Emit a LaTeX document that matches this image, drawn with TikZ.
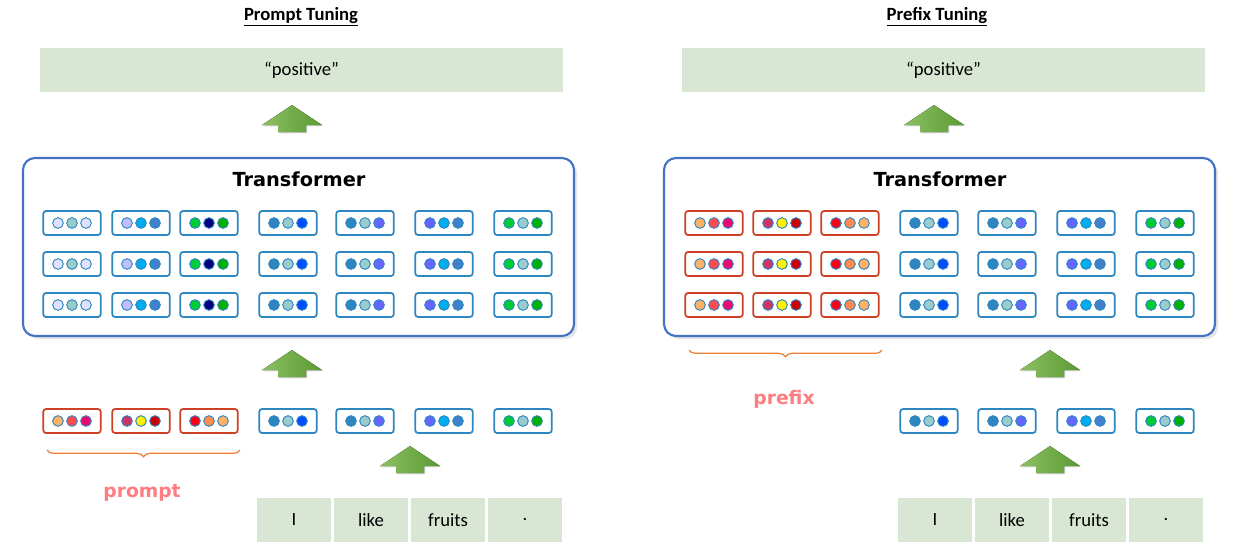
\documentclass[tikz,border=0pt]{standalone}
\usepackage{fontspec}
\setmainfont{Carlito}
\newfontfamily\boldsans{DejaVu Sans}
\usetikzlibrary{positioning,shadows,decorations.pathreplacing}

\definecolor{inbox}{HTML}{D9E6D3}
\definecolor{tfblue}{HTML}{4472C4}
\definecolor{tokblue}{HTML}{2E86C1}
\definecolor{tokred}{HTML}{CC4125}
\definecolor{bracecol}{HTML}{ED7D31}
\definecolor{labpink}{HTML}{FF7C80}
\definecolor{arrowlt}{HTML}{8CC063}
\definecolor{arrowdk}{HTML}{5A9A32}

\tikzset{
  inputbox/.style={fill=inbox, minimum height=33pt, inner sep=0pt, font=\fontsize{14}{16}\selectfont},
  tokbox/.style={draw=#1, line width=1.3pt, rounded corners=2pt, fill=white, minimum width=43pt, minimum height=18pt, inner sep=0pt},
  dot/.style={circle, draw=tokblue, line width=0.7pt, minimum size=8pt, inner sep=0pt},
  bigarrow/.style={left color=arrowlt, right color=arrowdk, draw=none, drop shadow={opacity=0.25,shadow xshift=1pt,shadow yshift=-1pt}},
  titletext/.style={font=\bfseries\fontsize{14}{16}\selectfont},
}

% token with three dots: name, x, y, border, colours
\newcommand{\tok}[7]{%
  \node[tokbox=#4] (#1) at (#2,#3) {};
  \node[dot, fill=#5] (#1-a) at (#2-14,#3) {};
  \node[dot, fill=#6] (#1-b) at (#2,#3) {};
  \node[dot, fill=#7] (#1-c) at (#2+14,#3) {};
}
% up arrow: name, x, top y
\newcommand{\uparr}[3]{%
  \fill[bigarrow] (#2,#3) -- (#2+30,#3+20) -- (#2+14,#3+20) -- (#2+14,#3+27) -- (#2-14,#3+27) -- (#2-14,#3+20) -- (#2-30,#3+20) -- cycle;
  \coordinate (#1) at (#2,#3);
}

\begin{document}
\begin{tikzpicture}[x=0.75pt,y=-0.75pt]
  \useasboundingbox (0,0) rectangle (1235,551);

  % titles
  \node[titletext] (title-l) at (301,17) {\underline{Prompt Tuning}};
  \node[titletext] (title-r) at (937,17) {\underline{Prefix Tuning}};

  % outputs
  \node[inputbox, minimum width=392pt] (out-l) at (301.5,70) {“positive”};
  \node[inputbox, minimum width=392pt] (out-r) at (943.5,70) {“positive”};
  \uparr{arr-l1}{292}{105}
  \uparr{arr-r1}{934}{105}

  % transformers
  \draw[tfblue, line width=1.6pt, rounded corners=9pt, fill=white, drop shadow={opacity=0.2}] (23,158) rectangle (574,336);
  \draw[tfblue, line width=1.6pt, rounded corners=9pt, fill=white, drop shadow={opacity=0.2}] (664,158) rectangle (1215,336);
  \node[font=\boldsans\bfseries\fontsize{14.5}{16}\selectfont] (tf-l) at (299,179) {Transformer};
  \node[font=\boldsans\bfseries\fontsize{14.5}{16}\selectfont] (tf-r) at (940,179) {Transformer};

  % left transformer tokens
  \foreach \y [count=\r] in {223,264,305} {
    \tok{l\r1}{72}{\y}{tokblue}{blue!12}{teal!40}{blue!12}
    \tok{l\r2}{141}{\y}{tokblue}{blue!25}{cyan}{cyan!50!blue!80}
    \tok{l\r3}{209}{\y}{tokblue}{green!60!teal}{blue!50!black}{green!70!black}
    \tok{l\r4}{288}{\y}{tokblue}{tokblue}{teal!40}{blue!70!cyan}
    \tok{l\r5}{365}{\y}{tokblue}{tokblue}{teal!40}{blue!60}
    \tok{l\r6}{444}{\y}{tokblue}{blue!60}{cyan}{cyan!50!blue!80}
    \tok{l\r7}{523}{\y}{tokblue}{green!60!teal}{teal!40}{green!70!black}
  }
  % right transformer tokens
  \foreach \y [count=\r] in {223,264,305} {
    \tok{r\r1}{714}{\y}{tokred}{orange!60}{red!70}{magenta!70!red}
    \tok{r\r2}{782}{\y}{tokred}{purple!80}{yellow}{red!80!black}
    \tok{r\r3}{850}{\y}{tokred}{red!90!magenta}{orange!70!red!70}{orange!60}
    \tok{r\r4}{929}{\y}{tokblue}{tokblue}{teal!40}{blue!70!cyan}
    \tok{r\r5}{1007}{\y}{tokblue}{tokblue}{teal!40}{blue!60}
    \tok{r\r6}{1086}{\y}{tokblue}{blue!60}{cyan}{cyan!50!blue!80}
    \tok{r\r7}{1165}{\y}{tokblue}{green!60!teal}{teal!40}{green!70!black}
  }
  \uparr{arr-l2}{292}{350}
  \uparr{arr-r2}{1050}{350}

  % left embeddings
  \tok{pa}{72}{421}{tokred}{orange!60}{red!70}{magenta!70!red}
  \tok{pb}{141}{421}{tokred}{purple!80}{yellow}{red!80!black}
  \tok{pc}{209}{421}{tokred}{red!90!magenta}{orange!70!red!70}{orange!60}
  \tok{ea}{288}{421}{tokblue}{tokblue}{teal!40}{blue!70!cyan}
  \tok{eb}{365}{421}{tokblue}{tokblue}{teal!40}{blue!60}
  \tok{ec}{444}{421}{tokblue}{blue!60}{cyan}{cyan!50!blue!80}
  \tok{ed}{523}{421}{tokblue}{green!60!teal}{teal!40}{green!70!black}
  % right embeddings
  \tok{fa}{929}{421}{tokblue}{tokblue}{teal!40}{blue!70!cyan}
  \tok{fb}{1007}{421}{tokblue}{tokblue}{teal!40}{blue!60}
  \tok{fc}{1086}{421}{tokblue}{blue!60}{cyan}{cyan!50!blue!80}
  \tok{fd}{1165}{421}{tokblue}{green!60!teal}{teal!40}{green!70!black}

  % braces
  \draw[bracecol, line width=0.9pt, decorate, decoration={brace, mirror, amplitude=5pt}] (47,450) -- (240,450);
  \node[font=\boldsans\bfseries\fontsize{14}{16}\selectfont, text=labpink] (lab-prompt) at (142,493) {prompt};
  \draw[bracecol, line width=0.9pt, decorate, decoration={brace, mirror, amplitude=5pt}] (689,350) -- (882,350);
  \node[font=\boldsans\bfseries\fontsize{14}{16}\selectfont, text=labpink] (lab-prefix) at (784,399) {prefix};

  \uparr{arr-l3}{410}{446}
  \uparr{arr-r3}{1050}{446}

  % inputs
  \foreach \w [count=\i] in {I,like,fruits,.} {
    \node[inputbox, minimum width=56pt] (inl\i) at (294+77*\i-77,520) {\w};
    \node[inputbox, minimum width=56pt] (inr\i) at (935+77*\i-77,520) {\w};
  }
\end{tikzpicture}
\end{document}
